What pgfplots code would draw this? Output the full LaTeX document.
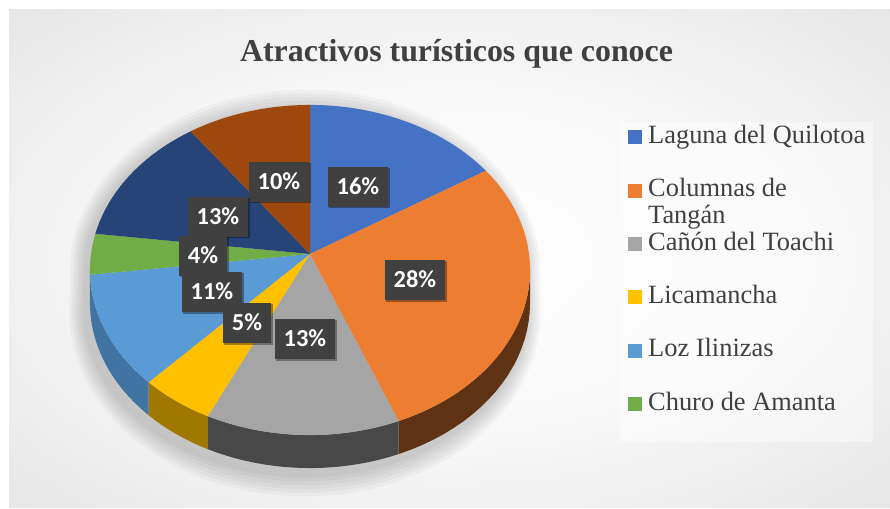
\documentclass[border=0pt]{standalone}
\usepackage{fontspec}
\setmainfont{Liberation Serif}
\newfontfamily\carlito{Carlito}
\usepackage{pgfplots}
\pgfplotsset{compat=1.18}
\usetikzlibrary{shadows}

\definecolor{cA}{HTML}{4472C4}
\definecolor{cB}{HTML}{ED7D31}
\definecolor{cC}{HTML}{A5A5A5}
\definecolor{cD}{HTML}{FFC000}
\definecolor{cE}{HTML}{5B9BD5}
\definecolor{cF}{HTML}{70AD47}
\definecolor{cG}{HTML}{264478}
\definecolor{cH}{HTML}{9E480E}
\definecolor{sB}{RGB}{94,50,19}
\definecolor{sC}{RGB}{72,72,72}
\definecolor{sD}{RGB}{160,120,0}
\definecolor{sE}{RGB}{66,116,163}
\definecolor{sF}{RGB}{76,120,48}
\definecolor{textgray}{HTML}{404040}
\definecolor{boxgray}{HTML}{404040}
\definecolor{bgmid}{RGB}{216,216,216}
\definecolor{bgedge}{RGB}{196,196,196}

\pgfdeclareradialshading{bgshade}{\pgfpoint{0bp}{0bp}}{color(0bp)=(white); color(18bp)=(white!97!black); color(50bp)=(bgmid); color(72bp)=(bgedge)}

% slice boundaries (clockwise from 12 o'clock), from the percentages
\pgfmathsetmacro\aA{90}
\pgfmathsetmacro\aB{\aA-3.6*16}
\pgfmathsetmacro\aC{\aB-3.6*28}
\pgfmathsetmacro\aD{\aC-3.6*13}
\pgfmathsetmacro\aE{\aD-3.6*5}
\pgfmathsetmacro\aF{\aE-3.6*11}
\pgfmathsetmacro\aG{\aF-3.6*4}
\pgfmathsetmacro\aH{\aG-3.6*13}
\pgfmathsetmacro\aI{\aH-3.6*10}
\def\fL{-174.43}
\def\fR{-5.57}

\newcommand\side[3]{%
  \addplot[fill=#1, draw=none, forget plot, variable=\s,
    samples at={0,0.025,...,1,1.00001,1.05,1.1,...,2,2}]
    ({px(tt(\s,#2,#3))},{py(tt(\s,#2,#3))+oo(\s)}) -- cycle;
}
\newcommand\slice[4][]{%
  \addplot[fill=#2, draw=none, #1, domain=#3:#4, samples=60, variable=\t] ({px(\t)},{py(\t)}) -- (310,254) -- cycle;
}

\begin{document}
\begin{tikzpicture}
\begin{axis}[
  x=1bp, y=1bp, y dir=reverse,
  xmin=0, xmax=890, ymin=0, ymax=509,
  scale only axis, hide axis, clip=false,
  declare function={
    px(\a)=310+219*cos(\a)/(1+0.097*sin(\a));
    py(\a)=254-163.5*sin(\a)/(1+0.097*sin(\a));
    tt(\s,\p,\q)=(\s<=1) ? (\p+(\q-\p)*\s) : (\q-(\q-\p)*(\s-1));
    oo(\s)=(\s>1) ? 33 : 0;
  },
  legend style={
    at={(axis cs:620,122)}, anchor=north west,
    draw=none, fill=none,
    inner xsep=8bp, inner ysep=2bp,
    font=\fontsize{26.5}{27}\selectfont, text=textgray,
    row sep=0pt, column sep=0pt,
    nodes={inner sep=0pt, text height=19bp, text depth=34.4bp, anchor=base west},
  },
  legend cell align=left,
  legend image code/.code={\fill[#1] (0bp,-1bp) rectangle (14bp,13bp); \path (20bp,0bp);},
]
% background
\fill[white] (0,0) rectangle (890,509);
\shade[shading=bgshade] (9,10) rectangle (890,507);
\fill[white, opacity=0.45] (620,122) rectangle (873,442);

% soft shadow
\pgfplotsinvokeforeach{1,2,3,4,5,6}{
  \addplot[forget plot, fill=black, fill opacity=0.03, draw=none, domain=0:360, samples=120, variable=\t]
    ({305+(1+0.012*#1)*(px(\t)-310)}, {288+(1+0.02*#1)*(py(\t)+33*(sin(\t)<0)-282)}) -- cycle;
}

% sides
\side{sB}{\aC}{\fR}
\side{sC}{\aD}{\aC}
\side{sD}{\aE}{\aD}
\side{sE}{\aF}{\aE}
\side{sF}{\fL}{\aF}

% top faces
\slice{cA}{\aB}{\aA}
\slice{cB}{\aC}{\aB}
\slice{cC}{\aD}{\aC}
\slice{cD}{\aE}{\aD}
\slice{cE}{\aF}{\aE}
\slice{cF}{\aG}{\aF}
\slice[forget plot]{cG}{\aH}{\aG}
\slice[forget plot]{cH}{\aI}{\aH}

% data labels
\addplot[draw=none, forget plot, point meta=explicit symbolic,
  nodes near coords={\pgfplotspointmeta\%},
  every node near coord/.append style={anchor=center, fill=boxgray, text=white,
    font=\carlito\bfseries\fontsize{24.5}{28}\selectfont,
    inner xsep=9bp, inner ysep=0bp, minimum height=40bp, text height=15.5bp, text depth=0bp,
    drop shadow={shadow xshift=1.5bp, shadow yshift=-1.5bp, opacity=0.35, fill=black}}]
  table[meta=lab] {
x y lab
279 182 10
358 187 16
218 217 13
203 256 4
212 292 11
247 323 5
305 339 13
415 280 28
};

\node[anchor=base, font=\fontsize{32}{38}\selectfont\bfseries, text=textgray] at (456.5,62) {Atractivos turísticos que conoce};

\legend{Laguna del Quilotoa, {\vtop{\hbox{Columnas de}\hbox{Tangán}}}, Cañón del Toachi, Licamancha, Loz Ilinizas, Churo de Amanta}
\end{axis}
\end{tikzpicture}
\end{document}
